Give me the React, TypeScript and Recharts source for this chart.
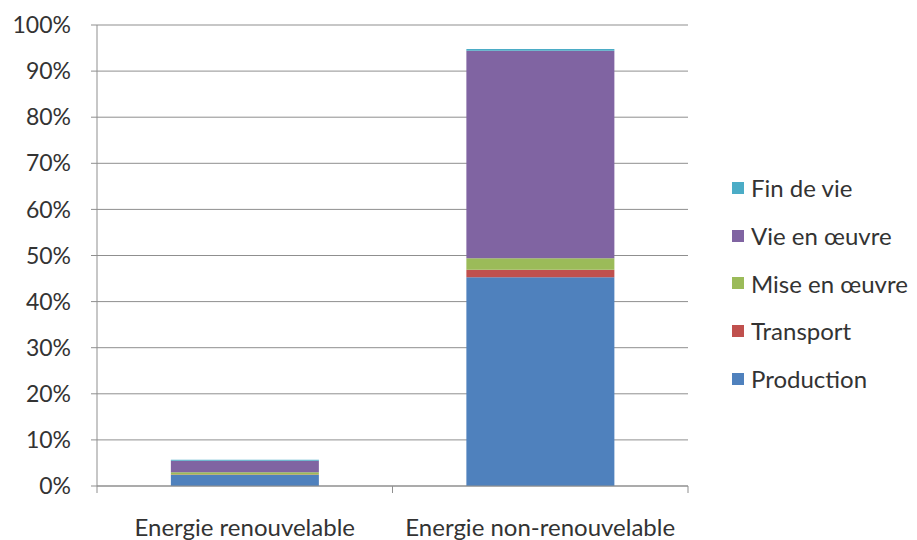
import { BarChart, Bar, XAxis, YAxis, CartesianGrid, Legend } from 'recharts';

const categories = ['Energie renouvelable', 'Energie non-renouvelable'];
const production = [2.4, 45.3];
const transport = [0.1, 1.6];
const miseEnOeuvre = [0.5, 2.5];
const vieEnOeuvre = [2.5, 45.0];
const finDeVie = [0.2, 0.4];
const yTicks = [0, 10, 20, 30, 40, 50, 60, 70, 80, 90, 100];

const W = 917;
const H = 540;
const LEFT = 97;
const RIGHT = 229;
const PLOT_W = W - LEFT - RIGHT;
const HALF_BAND = PLOT_W / categories.length / 2;
const FONT = 'Lato, "Open Sans", sans-serif';
const TEXT = '#333333';
const LINE = '#8f8f8f';

const series = [
  { key: 'production', name: 'Production', color: '#4F81BD' },
  { key: 'transport', name: 'Transport', color: '#C0504D' },
  { key: 'mise', name: 'Mise en œuvre', color: '#9BBB59' },
  { key: 'vie', name: 'Vie en œuvre', color: '#8064A2' },
  { key: 'fin', name: 'Fin de vie', color: '#4BACC6' },
];

const data = categories.map((name, i) => ({
  name,
  production: production[i],
  transport: transport[i],
  mise: miseEnOeuvre[i],
  vie: vieEnOeuvre[i],
  fin: finDeVie[i],
}));

function CategoryTick(props: any) {
  const { x, y, payload, index } = props;
  const last = index === categories.length - 1;
  return (
    <g>
      <line x1={x - HALF_BAND} y1={y} x2={x - HALF_BAND} y2={y + 7} stroke={LINE} />
      {last && <line x1={x + HALF_BAND} y1={y} x2={x + HALF_BAND} y2={y + 7} stroke={LINE} />}
      <text x={x} y={y + 50} textAnchor="middle" fill={TEXT} fontSize={24} fontFamily={FONT}>
        {payload.value}
      </text>
    </g>
  );
}

// legend listed top-down in reverse stack order, like the stacked bars
function LegendContent(props: any) {
  const order = (v: string) => series.findIndex((s) => s.name === v);
  const items = [...(props.payload || [])].sort((a: any, b: any) => order(b.value) - order(a.value));
  return (
    <div style={{ fontFamily: FONT, fontSize: 24, color: TEXT }}>
      {items.map((item: any) => (
        <div key={item.value} style={{ height: 47.7, display: 'flex', alignItems: 'center' }}>
          <span style={{ width: 12, height: 12, background: item.color, marginRight: 7, display: 'inline-block' }} />
          <span>{item.value}</span>
        </div>
      ))}
    </div>
  );
}

export default function App() {
  return (
    <div style={{ position: 'absolute', left: 0, top: 0, background: '#fff' }}>
      <BarChart
        width={W}
        height={H}
        data={data}
        margin={{ top: 25, right: RIGHT - 185, left: 0, bottom: 0 }}
        barCategoryGap="25%"
      >
        <CartesianGrid vertical={false} stroke={LINE} />
        <XAxis
          dataKey="name"
          height={54}
          axisLine={{ stroke: LINE }}
          tickLine={false}
          tickSize={0}
          tickMargin={0}
          tick={<CategoryTick />}
          interval={0}
        />
        <YAxis
          width={LEFT}
          domain={[0, 100]}
          ticks={yTicks}
          axisLine={{ stroke: LINE }}
          tickLine={{ stroke: LINE }}
          tickSize={6}
          tickMargin={20}
          tickFormatter={(v) => `${v}%`}
          tick={{ fill: TEXT, fontSize: 23, fontFamily: FONT }}
        />
        <Legend
          layout="vertical"
          align="right"
          verticalAlign="middle"
          content={<LegendContent />}
          wrapperStyle={{ left: 732, top: 164, width: 185 }}
        />
        {series.map((s) => (
          <Bar key={s.key} dataKey={s.key} name={s.name} stackId="a" fill={s.color} isAnimationActive={false} />
        ))}
      </BarChart>
    </div>
  );
}
